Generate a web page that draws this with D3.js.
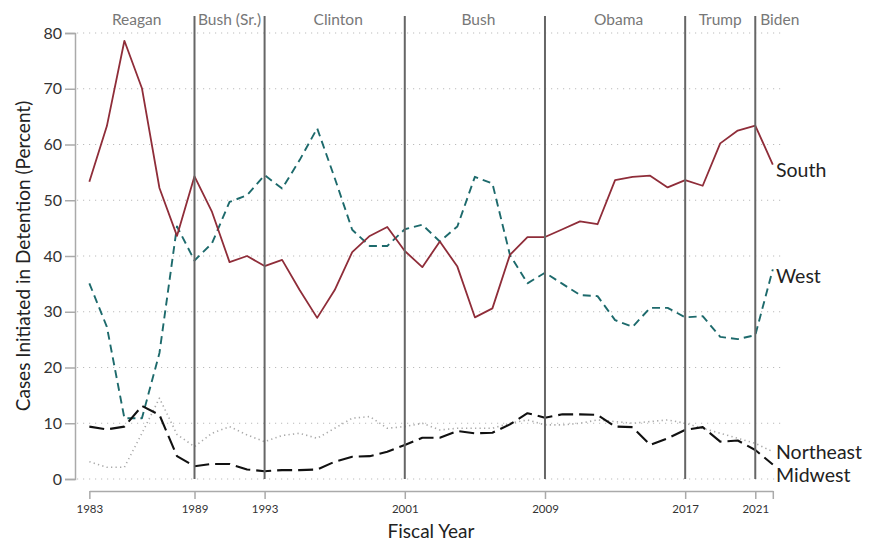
<!DOCTYPE html>
<html><head><meta charset="utf-8">
<script src="https://cdn.jsdelivr.net/npm/d3@7"></script>
<style>body{margin:0;background:#fff}svg{display:block;font-family:Lato,"Open Sans",sans-serif}</style>
</head><body><svg id="c" width="870" height="542"></svg>
<script>
const years = d3.range(1983, 2023);
const south = [53.3,63.3,78.6,70.1,52.2,43.6,54.3,47.9,38.9,40.0,38.2,39.3,33.9,28.9,33.9,40.7,43.6,45.2,40.9,38.0,42.6,38.1,29.0,30.6,40.2,43.4,43.4,44.8,46.2,45.7,53.6,54.2,54.4,52.3,53.6,52.6,60.2,62.5,63.4,56.4];
const west = [35.1,27.3,10.9,10.9,22.6,45.3,39.2,42.3,49.7,50.9,54.5,52.1,57.2,62.9,54.0,44.7,41.8,41.8,44.8,45.6,42.6,45.3,54.2,53.0,40.2,35.1,37.0,35.0,33.0,32.8,28.5,27.3,30.7,30.7,29.0,29.2,25.5,25.1,25.8,37.6];
const midwest = [9.4,8.9,9.4,13.1,11.5,4.1,2.3,2.7,2.7,1.7,1.4,1.6,1.6,1.7,3.1,4.0,4.1,4.9,6.1,7.4,7.4,8.6,8.2,8.3,9.8,11.8,11.0,11.6,11.6,11.5,9.4,9.3,6.1,7.3,8.8,9.3,6.7,6.9,5.2,2.6];
const northeast = [3.1,2.1,2.1,8.2,14.5,8.0,5.8,8.2,9.4,7.9,6.7,7.8,8.2,7.3,9.1,10.9,11.2,9.1,9.4,10.0,8.8,9.1,9.1,9.1,10.0,10.6,9.7,9.7,10.0,10.6,10.3,10.0,10.3,10.6,10.0,9.1,8.2,7.3,6.4,4.9];
const seriesNames = ["South","West","Northeast","Midwest"];
const termYears = [1989,1993,2001,2009,2017,2021];
const presidents = ["Reagan","Bush (Sr.)","Clinton","Bush","Obama","Trump","Biden"];
const presidentLabelYears = [1985.7,1991,1997.2,2005.2,2013.2,2019,2022.4];
const xTickYears = [1983,1989,1993,2001,2009,2017,2021,2022];
const xTickLabels = ["1983","1989","1993","2001","2009","2017","2021",""];
const yTicks = [0,10,20,30,40,50,60,70,80];

const svg = d3.select("#c");
const x = d3.scaleLinear().domain([1983,2022]).range([89.35,772.8]);
const y = d3.scaleLinear().domain([0,80]).range([479,33]);

// grid
svg.append("g").selectAll("line").data(yTicks).join("line")
  .attr("x1",77).attr("x2",783).attr("y1",d=>y(d)).attr("y2",d=>y(d))
  .attr("stroke","#bbb").attr("stroke-width",1).attr("stroke-dasharray","1.2,4.8");

// y axis
const ya = svg.append("g").attr("transform","translate(75,0)")
  .call(d3.axisLeft(y).tickValues(yTicks).tickSize(10).tickPadding(3));
ya.select(".domain").attr("stroke","#aaa").attr("stroke-width",1.5);
ya.selectAll(".tick line").attr("stroke","#aaa").attr("stroke-width",1.5);
ya.selectAll(".tick text").attr("font-size",16).attr("fill","#333").attr("font-family","Lato, sans-serif");

// x axis
const xa = svg.append("g").attr("transform","translate(0,491)")
  .call(d3.axisBottom(x).tickValues(xTickYears).tickFormat((d,i)=>xTickLabels[i]).tickSize(8).tickPadding(6).tickSizeOuter(0));
xa.select(".domain").attr("stroke","#aaa").attr("stroke-width",1.5);
xa.selectAll(".tick line").attr("stroke","#aaa").attr("stroke-width",1.5);
xa.selectAll(".tick text").attr("font-size",11.5).attr("fill","#333").attr("font-family","Lato, sans-serif");

// axis titles
svg.append("text").attr("x",431).attr("y",538).attr("text-anchor","middle")
  .attr("font-size",19).attr("fill","#222").text("Fiscal Year");
svg.append("text").attr("transform","translate(30,256) rotate(-90)").attr("text-anchor","middle")
  .attr("font-size",19).attr("fill","#222").text("Cases Initiated in Detention (Percent)");

// series
const line = d3.line().x((d,i)=>x(years[i])).y(d=>y(d));
const styles = [
  {data:northeast, color:"#aaa", width:1.6, dash:"1.3,3.2"},
  {data:west, color:"#1d6a6c", width:1.9, dash:"8,5"},
  {data:midwest, color:"#111", width:2.1, dash:"15,6"},
  {data:south, color:"#8f2d39", width:1.8, dash:null}
];
styles.forEach(s=>{
  svg.append("path").datum(s.data).attr("d",line).attr("fill","none")
    .attr("stroke",s.color).attr("stroke-width",s.width)
    .attr("stroke-dasharray",s.dash).attr("stroke-linejoin","round");
});

// term lines
svg.append("g").selectAll("line").data(termYears).join("line")
  .attr("x1",d=>x(d)).attr("x2",d=>x(d)).attr("y1",16).attr("y2",y(0))
  .attr("stroke","#666").attr("stroke-width",2);

// president labels
svg.append("g").selectAll("text").data(presidents).join("text")
  .attr("x",(d,i)=>x(presidentLabelYears[i])).attr("y",25).attr("text-anchor","middle")
  .attr("font-size",15.5).attr("fill","#777").text(d=>d);

// series labels
const lastVals = {South:south[39], West:west[39], Northeast:northeast[39], Midwest:midwest[39]};
const labelOffsets = {South:-1.0, West:-1.2, Northeast:-0.1, Midwest:-1.9};
svg.append("g").selectAll("text").data(seriesNames).join("text")
  .attr("x",776).attr("y",d=>y(lastVals[d]+labelOffsets[d]))
  .attr("dy","0.35em").attr("font-size",19.5).attr("fill","#222").text(d=>d);
</script></body></html>
